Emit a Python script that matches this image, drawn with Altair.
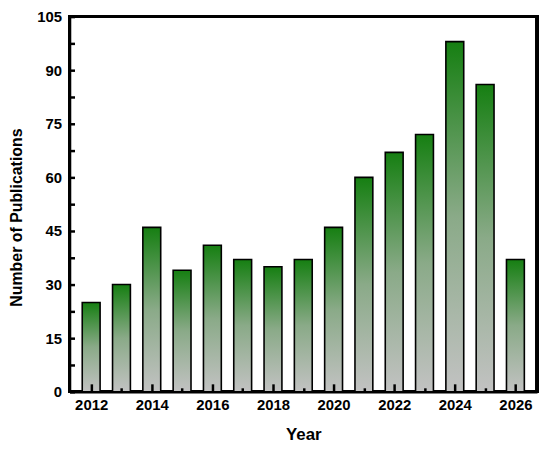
import altair as alt
import pandas as pd

years = [2012, 2013, 2014, 2015, 2016, 2017, 2018, 2019, 2020, 2021, 2022, 2023, 2024, 2025, 2026]
counts = [25, 30, 46, 34, 41, 37, 35, 37, 46, 60, 67, 72, 98, 86, 37]
y_ticks = [0, 15, 30, 45, 60, 75, 90, 105]
y_minor = [i * 7.5 for i in range(15)]
x_major = [2012, 2014, 2016, 2018, 2020, 2022, 2024, 2026]
x_all = years

df = pd.DataFrame({"Year": years, "Count": counts})

W, H = 471, 378
FONT = "Liberation Sans"
xscale = alt.Scale(domain=[2011.45, 2026.55], nice=False, zero=False)
yscale = alt.Scale(domain=[0, 105], nice=False)

grad = alt.Gradient(
    gradient="linear",
    x1=0, x2=0, y1=0, y2=1,
    stops=[
        alt.GradientStop(color="#167f12", offset=0),
        alt.GradientStop(color="#8aaa88", offset=0.5),
        alt.GradientStop(color="#c2c2c2", offset=1),
    ],
)

base = alt.Chart(df)

frame = alt.Chart(df).mark_rect(
    fill="white", fillOpacity=0, stroke="black", strokeWidth=2.5
).encode(
    x=alt.value(0), x2=alt.value(W), y=alt.value(0), y2=alt.value(H),
)

bars = base.mark_bar(size=18, fill=grad, stroke="black", strokeWidth=1.6).encode(
    x=alt.X("Year:Q", scale=xscale, axis=alt.Axis(
        values=x_major, format="d", title="Year", ticks=False, grid=False,
        domainColor="black", domainWidth=2.5, zindex=2,
        labelFont=FONT, labelFontSize=15, labelFontWeight="bold", labelColor="black",
        labelPadding=6, titleFont=FONT, titleFontSize=17, titleFontWeight="bold",
        titleColor="black", titlePadding=14)),
    y=alt.Y("Count:Q", scale=yscale, axis=alt.Axis(
        values=y_ticks, title="Number of Publications", ticks=False, grid=False,
        domainColor="black", domainWidth=2.5, zindex=2,
        labelFont=FONT, labelFontSize=15, labelFontWeight="bold", labelColor="black",
        labelPadding=8, titleFont=FONT, titleFontSize=16, titleFontWeight="bold",
        titleColor="black", titlePadding=12, titleY=202)),
)

ticks = base.mark_bar(opacity=0).encode(
    x=alt.X("Year:Q", scale=xscale, axis=alt.Axis(
        orient="top", offset=-H, values=x_all, labels=False, domain=False,
        grid=False, title=None,
        tickSize={"condition": {"test": "datum.value % 2 === 0", "value": 8}, "value": 4},
        tickWidth=2.5, tickColor="black", zindex=2)),
    y=alt.Y("Count:Q", scale=yscale, axis=alt.Axis(
        orient="right", offset=-W, values=y_minor, labels=False, domain=False,
        grid=False, title=None, tickSize=5, tickWidth=2.5, tickColor="black",
        zindex=2)),
)

chart = alt.layer(frame, bars, ticks).resolve_axis(
    x="independent", y="independent"
).properties(
    width=W, height=H, background="white",
    padding={"left": 62, "top": 7, "right": 5, "bottom": 55},
    autosize=alt.AutoSizeParams(type="none"),
    view=alt.ViewBackground(stroke="black", strokeWidth=2.5),
)

chart.save("out.html", embed_options={"renderer": "svg", "actions": False})
